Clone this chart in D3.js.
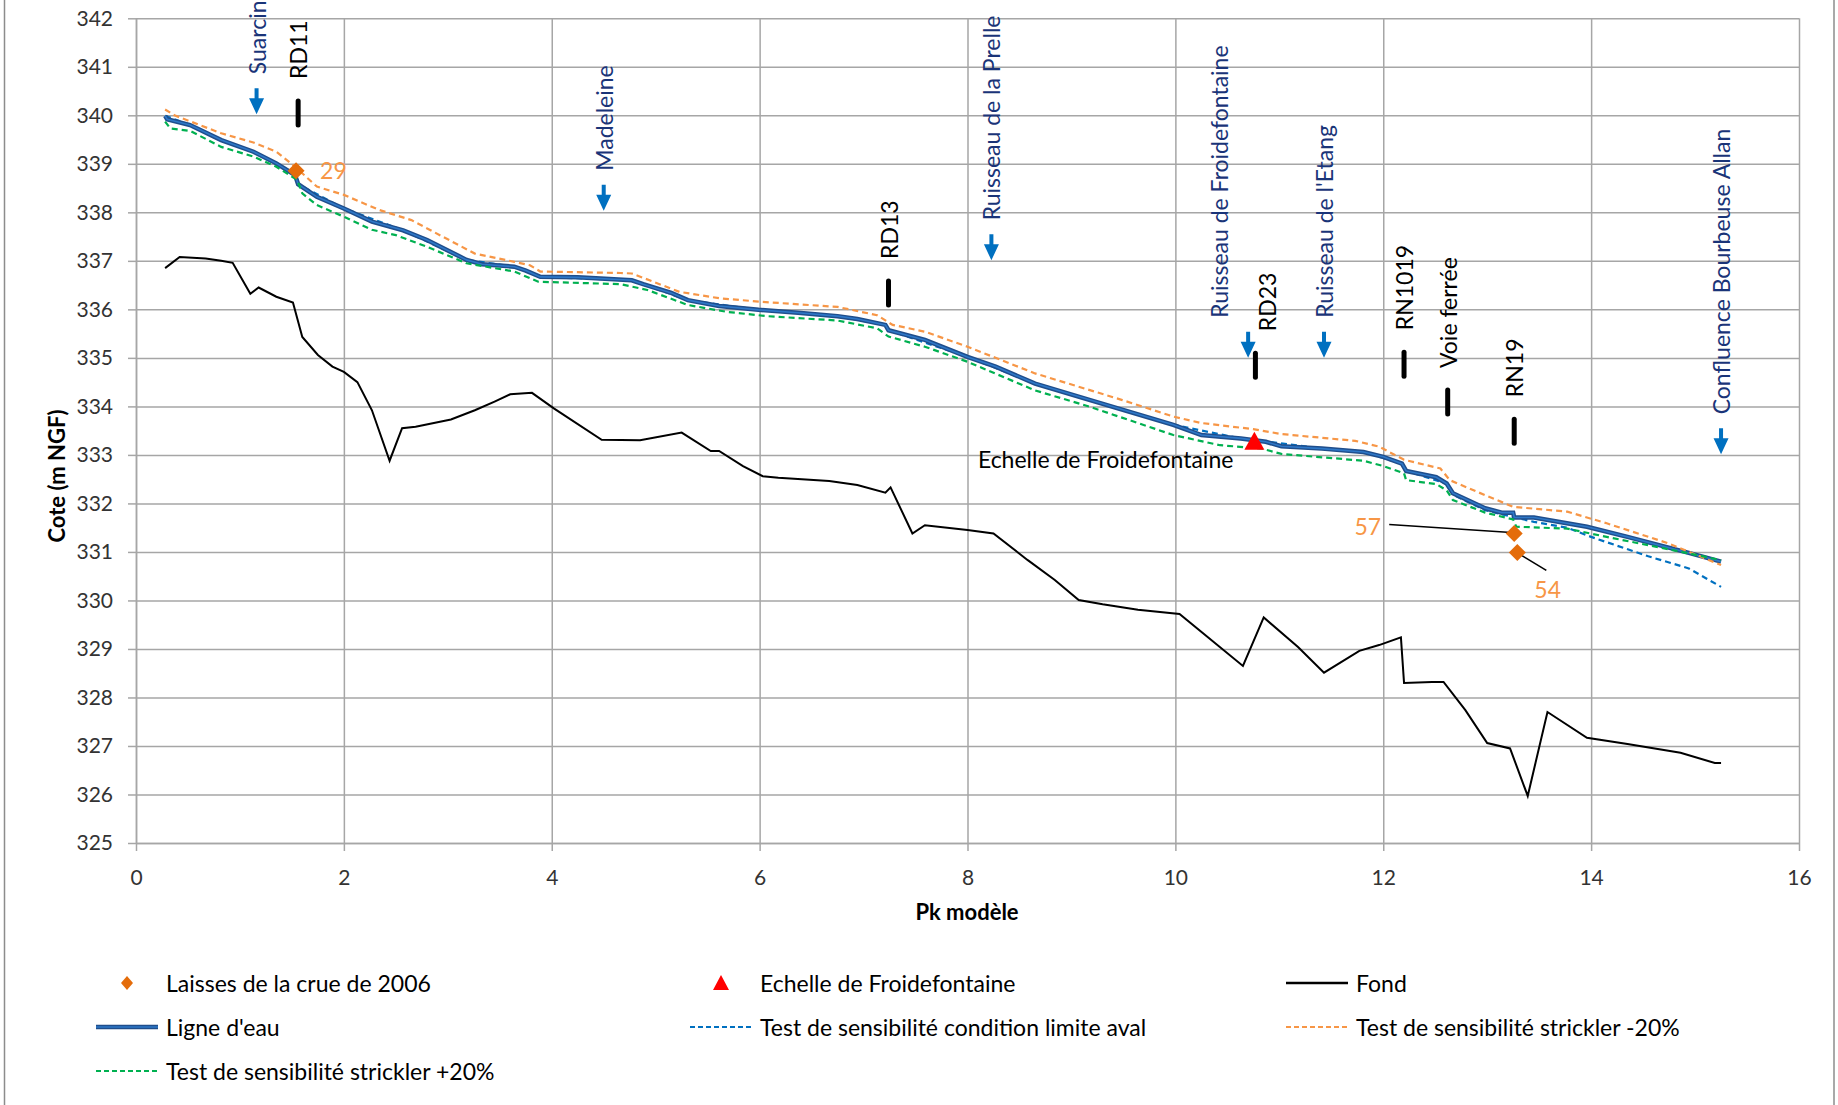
<!DOCTYPE html>
<html lang="fr">
<head>
<meta charset="UTF-8">
<script src="https://cdn.jsdelivr.net/npm/d3@7"></script>
<style>
  body { margin: 0; background: #fff; }
  svg text { font-family: Lato, "Open Sans", sans-serif; }
  .axis text { font-size: 21px; fill: #333; }
  .axis path, .axis line { stroke: #a6a6a6; stroke-width: 1.5px; }
  .grid line { stroke: #a6a6a6; stroke-width: 1.5px; }
  .grid path { display: none; }
  .title { font-size: 22px; font-weight: bold; fill: #000; }
  .legend text { font-size: 23px; fill: #000; }
  .lbl { font-size: 23px; }
</style>
</head>
<body>
<svg width="1838" height="1105"></svg>
<script>
// --- data (Pk modèle en km, cotes en m NGF) ---
var fondPk   = [0.28,0.42,0.67,0.82,0.93,1.10,1.18,1.35,1.51,1.60,1.75,1.89,2.00,2.13,2.27,2.44,2.56,2.69,3.03,3.26,3.45,3.60,3.81,4.02,4.48,4.85,5.25,5.53,5.61,5.84,6.03,6.18,6.67,6.94,7.21,7.26,7.47,7.59,8.00,8.25,8.58,8.84,9.07,9.30,9.64,10.04,10.65,10.85,11.18,11.43,11.77,11.96,12.17,12.20,12.47,12.58,12.79,13.00,13.22,13.39,13.58,13.96,14.35,14.86,15.19,15.25];
var fondCote = [336.85,337.08,337.05,337.00,336.96,336.32,336.45,336.26,336.14,335.43,335.06,334.82,334.71,334.50,333.92,332.88,333.55,333.58,333.73,333.92,334.10,334.25,334.28,333.96,333.31,333.30,333.46,333.08,333.08,332.77,332.56,332.53,332.46,332.38,332.22,332.33,331.38,331.55,331.45,331.38,330.83,330.42,330.01,329.92,329.81,329.72,328.65,329.65,329.04,328.51,328.96,329.08,329.24,328.30,328.32,328.32,327.74,327.06,326.95,325.97,327.70,327.17,327.04,326.86,326.65,326.65];

var eauPk   = [0.28,0.30,0.52,0.82,1.13,1.35,1.53,1.56,1.74,2.00,2.27,2.57,2.80,3.18,3.33,3.64,3.75,3.89,4.25,4.77,4.88,5.15,5.31,5.61,5.99,6.37,6.75,6.94,7.21,7.24,7.59,8.00,8.27,8.65,9.18,9.98,10.25,10.63,10.87,11.02,11.41,11.81,12.00,12.18,12.22,12.51,12.61,12.67,12.98,13.14,13.25,13.26,13.45,13.96,14.35,14.94,15.25];
var eauCote = [339.99,339.92,339.80,339.49,339.25,339.01,338.77,338.58,338.32,338.08,337.81,337.63,337.43,337.02,336.93,336.88,336.80,336.67,336.66,336.60,336.52,336.34,336.19,336.07,335.99,335.93,335.86,335.80,335.68,335.57,335.37,335.02,334.82,334.47,334.13,333.62,333.41,333.34,333.27,333.18,333.13,333.06,332.96,332.82,332.67,332.54,332.41,332.21,331.90,331.81,331.81,331.71,331.71,331.52,331.31,330.98,330.80];

var avalPk   = [0.28,0.52,0.82,1.13,1.53,1.56,2.00,2.57,3.18,3.64,3.89,4.77,5.31,5.99,6.75,7.21,7.24,8.00,8.65,9.18,9.98,10.63,11.41,11.81,12.18,12.22,12.61,12.67,12.98,13.25,13.45,13.77,14.00,14.55,14.94,15.25];
var avalCote = [339.99,339.80,339.49,339.25,338.77,338.58,338.08,337.63,337.02,336.88,336.67,336.60,336.19,335.99,335.86,335.68,335.57,335.02,334.47,334.13,333.62,333.34,333.13,333.06,332.82,332.67,332.41,332.18,331.86,331.72,331.62,331.50,331.31,330.91,330.66,330.28];

var moinsPk   = [0.28,0.37,0.82,1.13,1.35,1.53,1.74,2.00,2.34,2.65,2.95,3.26,3.64,3.79,3.89,4.66,4.77,5.23,5.61,5.99,6.75,7.13,7.28,7.59,8.00,8.65,9.49,9.98,10.24,10.75,11.02,11.73,11.96,12.20,12.55,12.64,12.98,13.25,13.77,14.15,14.74,15.25];
var moinsCote = [340.12,340.00,339.63,339.44,339.25,338.94,338.53,338.36,338.05,337.84,337.50,337.15,336.98,336.91,336.78,336.75,336.74,336.36,336.23,336.16,336.05,335.88,335.68,335.54,335.23,334.68,334.13,333.79,333.66,333.53,333.43,333.29,333.17,332.90,332.72,332.48,332.17,331.93,331.83,331.59,331.18,330.73];

var plusPk   = [0.28,0.33,0.52,0.82,1.13,1.35,1.55,1.60,1.74,2.00,2.27,2.50,2.80,3.18,3.64,3.87,4.66,4.92,5.31,5.68,6.07,6.75,7.13,7.24,7.59,8.00,8.65,9.18,9.98,10.43,10.83,11.02,11.81,12.00,12.20,12.22,12.51,12.61,12.67,12.98,13.25,13.28,13.77,14.15,14.94,15.25];
var plusCote = [339.87,339.73,339.68,339.35,339.15,338.94,338.67,338.39,338.15,337.91,337.64,337.53,337.29,336.95,336.78,336.57,336.52,336.40,336.09,335.95,335.86,335.77,335.61,335.44,335.23,334.92,334.33,333.99,333.41,333.20,333.13,333.02,332.88,332.77,332.62,332.48,332.40,332.27,332.07,331.81,331.67,331.52,331.48,331.31,330.97,330.83];

var laissesPk   = [1.54, 13.26, 13.29];
var laissesCote = [338.86, 331.38, 330.99];
var laissesNom  = ["29", "57", "54"];

var echellePk = [10.76], echelleCote = [333.27];

var affluents     = ["Suarcine", "Madeleine", "Ruisseau de la Prelle", "Ruisseau de Froidefontaine", "Ruisseau de l'Etang", "Confluence Bourbeuse Allan"];
var affluentsPk   = [1.16, 4.50, 8.23, 10.70, 11.43, 15.25];
var affluentsCote = [340.29, 338.30, 337.28, 335.27, 335.27, 333.28];

var ouvrages     = ["RD11", "RD13", "RD23", "RN1019", "Voie ferrée", "RN19"];
var ouvragesPk   = [1.56, 7.24, 10.77, 12.20, 12.62, 13.26];
var ouvragesCote = [340.05, 336.34, 334.85, 334.87, 334.09, 333.49];

var xTicks = [0, 2, 4, 6, 8, 10, 12, 14, 16];
var yTicks = d3.range(325, 343);

// --- layout ---
var svg = d3.select("svg");
var pLeft = 136, pRight = 1799, pTop = 18.3, pBottom = 843;
var x = d3.scaleLinear().domain([0, 16]).range([pLeft, pRight]);
var y = d3.scaleLinear().domain([325, 342]).range([pBottom, pTop]);

// chart frame
svg.append("line").attr("x1", 4.5).attr("x2", 4.5).attr("y1", 0).attr("y2", 1105).attr("stroke", "#8c8c8c").attr("stroke-width", 1.5);
svg.append("line").attr("x1", 1834).attr("x2", 1834).attr("y1", 0).attr("y2", 1105).attr("stroke", "#8c8c8c").attr("stroke-width", 1.5);

// grid
svg.append("g").attr("class", "grid")
    .attr("transform", "translate(" + pLeft + ",0)")
    .call(d3.axisLeft(y).tickValues(yTicks).tickSize(-(pRight - pLeft)).tickFormat(""));
svg.append("g").attr("class", "grid")
    .attr("transform", "translate(0," + pBottom + ")")
    .call(d3.axisBottom(x).tickValues(xTicks).tickSize(-(pBottom - pTop)).tickFormat(""));

// axes
svg.append("g").attr("class", "axis")
    .attr("transform", "translate(" + pLeft + ",0)")
    .call(d3.axisLeft(y).tickValues(yTicks).tickSize(8).tickSizeOuter(0).tickPadding(15).tickFormat(d3.format("d")));
svg.append("g").attr("class", "axis")
    .attr("transform", "translate(0," + pBottom + ")")
    .call(d3.axisBottom(x).tickValues(xTicks).tickSize(8).tickSizeOuter(0).tickPadding(19).tickFormat(d3.format("d")));

svg.append("text").attr("class", "title")
    .attr("transform", "translate(56,476) rotate(-90)")
    .attr("text-anchor", "middle").attr("dominant-baseline", "central")
    .text("Cote (m NGF)");
svg.append("text").attr("class", "title")
    .attr("x", 967).attr("y", 920).attr("text-anchor", "middle")
    .text("Pk modèle");

// series
var line = d3.line().x(function(d){ return x(d[0]); }).y(function(d){ return y(d[1]); });

svg.append("path").datum(d3.zip(fondPk, fondCote))
    .attr("d", line).attr("fill", "none").attr("stroke", "#000").attr("stroke-width", 2);

svg.append("path").datum(d3.zip(avalPk, avalCote))
    .attr("d", line).attr("fill", "none").attr("stroke", "#0070c0").attr("stroke-width", 2.2).attr("stroke-dasharray", "6,4");

var eau = d3.zip(eauPk, eauCote);
svg.append("path").datum(eau)
    .attr("d", line).attr("fill", "none").attr("stroke", "#1f4e8c").attr("stroke-width", 4.5);
svg.append("path").datum(eau)
    .attr("d", line).attr("fill", "none").attr("stroke", "#2e78c8").attr("stroke-width", 1.6);

svg.append("path").datum(d3.zip(moinsPk, moinsCote))
    .attr("d", line).attr("fill", "none").attr("stroke", "#f79646").attr("stroke-width", 2.2).attr("stroke-dasharray", "6,4");
svg.append("path").datum(d3.zip(plusPk, plusCote))
    .attr("d", line).attr("fill", "none").attr("stroke", "#00b050").attr("stroke-width", 2.2).attr("stroke-dasharray", "6,4");

// markers: affluents (blue arrows) and ouvrages (black bars)
var arrow = "M-2,-13L2,-13L2,-3L7.5,-3L0,13L-7.5,-3L-2,-3Z";
var nudge = { "Ruisseau de Froidefontaine": -29, "RD23": 12 };

affluents.forEach(function(n, i) {
    var px = x(affluentsPk[i]), py = y(affluentsCote[i]);
    svg.append("path").attr("d", arrow).attr("fill", "#0070c0")
        .attr("transform", "translate(" + px + "," + py + ")");
    svg.append("text").attr("class", "lbl").attr("fill", "#1a3478")
        .attr("transform", "translate(" + (px + (nudge[n] || 0)) + "," + (py - 27) + ") rotate(-90)")
        .attr("dominant-baseline", "central").text(n);
});
ouvrages.forEach(function(n, i) {
    var px = x(ouvragesPk[i]), py = y(ouvragesCote[i]);
    svg.append("line").attr("x1", px).attr("x2", px).attr("y1", py - 12).attr("y2", py + 12)
        .attr("stroke", "#000").attr("stroke-width", 5).attr("stroke-linecap", "round");
    svg.append("text").attr("class", "lbl").attr("fill", "#000")
        .attr("transform", "translate(" + (px + (nudge[n] || 0)) + "," + (py - 34) + ") rotate(-90)")
        .attr("dominant-baseline", "central").text(n);
});

// echelle
var ex = x(echellePk[0]), ey = y(echelleCote[0]);
svg.append("path").attr("d", "M0,-10L10,8L-10,8Z").attr("fill", "#ff0000")
    .attr("transform", "translate(" + ex + "," + ey + ")");
svg.append("text").attr("class", "lbl").attr("fill", "#000")
    .attr("x", ex - 21).attr("y", ey + 26).attr("text-anchor", "end")
    .text("Echelle de Froidefontaine");

// laisses de crue
var diamond = "M0,-8.5L8.5,0L0,8.5L-8.5,0Z";
var lblPos = [
    { dx: 24, dy: 8, anchor: "start", lead: null },
    { dx: -133, dy: 2, anchor: "end", lead: [-125, -9, -3, -1] },
    { dx: 17, dy: 46, anchor: "start", lead: [1, 1, 29, 18] }
];
laissesPk.forEach(function(p, i) {
    var px = x(p), py = y(laissesCote[i]), L = lblPos[i];
    if (L.lead) {
        svg.append("line").attr("x1", px + L.lead[0]).attr("y1", py + L.lead[1])
            .attr("x2", px + L.lead[2]).attr("y2", py + L.lead[3])
            .attr("stroke", "#000").attr("stroke-width", 1.6);
    }
    svg.append("path").attr("d", diamond).attr("fill", "#e46c0a")
        .attr("transform", "translate(" + px + "," + py + ")");
    svg.append("text").attr("class", "lbl").attr("fill", "#f79646")
        .attr("x", px + L.dx).attr("y", py + L.dy).attr("text-anchor", L.anchor)
        .text(laissesNom[i]);
});

// legend
var legend = svg.append("g").attr("class", "legend");
var legItems = [
    { name: "Laisses de la crue de 2006", type: "diamond", x: 96, y: 983 },
    { name: "Echelle de Froidefontaine", type: "triangle", x: 690, y: 983 },
    { name: "Fond", type: "line", color: "#000", dash: null, w: 2.5, x: 1286, y: 983 },
    { name: "Ligne d'eau", type: "eau", x: 96, y: 1027 },
    { name: "Test de sensibilité condition limite aval", type: "line", color: "#0070c0", dash: "5,3", w: 2.2, x: 690, y: 1027 },
    { name: "Test de sensibilité strickler -20%", type: "line", color: "#f79646", dash: "5,3", w: 2.2, x: 1286, y: 1027 },
    { name: "Test de sensibilité strickler +20%", type: "line", color: "#00b050", dash: "5,3", w: 2.2, x: 96, y: 1071 }
];
legItems.forEach(function(it) {
    var g = legend.append("g").attr("transform", "translate(" + it.x + "," + it.y + ")");
    if (it.type === "diamond") {
        g.append("path").attr("d", "M0,-7L6,0L0,7L-6,0Z").attr("fill", "#e46c0a").attr("transform", "translate(31,0)");
    } else if (it.type === "triangle") {
        g.append("path").attr("d", "M0,-8L8,7L-8,7Z").attr("fill", "#ff0000").attr("transform", "translate(31,0)");
    } else if (it.type === "eau") {
        g.append("line").attr("x1", 0).attr("x2", 62).attr("stroke", "#1f4e8c").attr("stroke-width", 4.5);
        g.append("line").attr("x1", 0).attr("x2", 62).attr("stroke", "#2e78c8").attr("stroke-width", 1.6);
    } else {
        g.append("line").attr("x1", 0).attr("x2", 62).attr("stroke", it.color)
            .attr("stroke-width", it.w).attr("stroke-dasharray", it.dash);
    }
    g.append("text").attr("x", 70).attr("dominant-baseline", "central").text(it.name);
});
</script>
</body>
</html>
